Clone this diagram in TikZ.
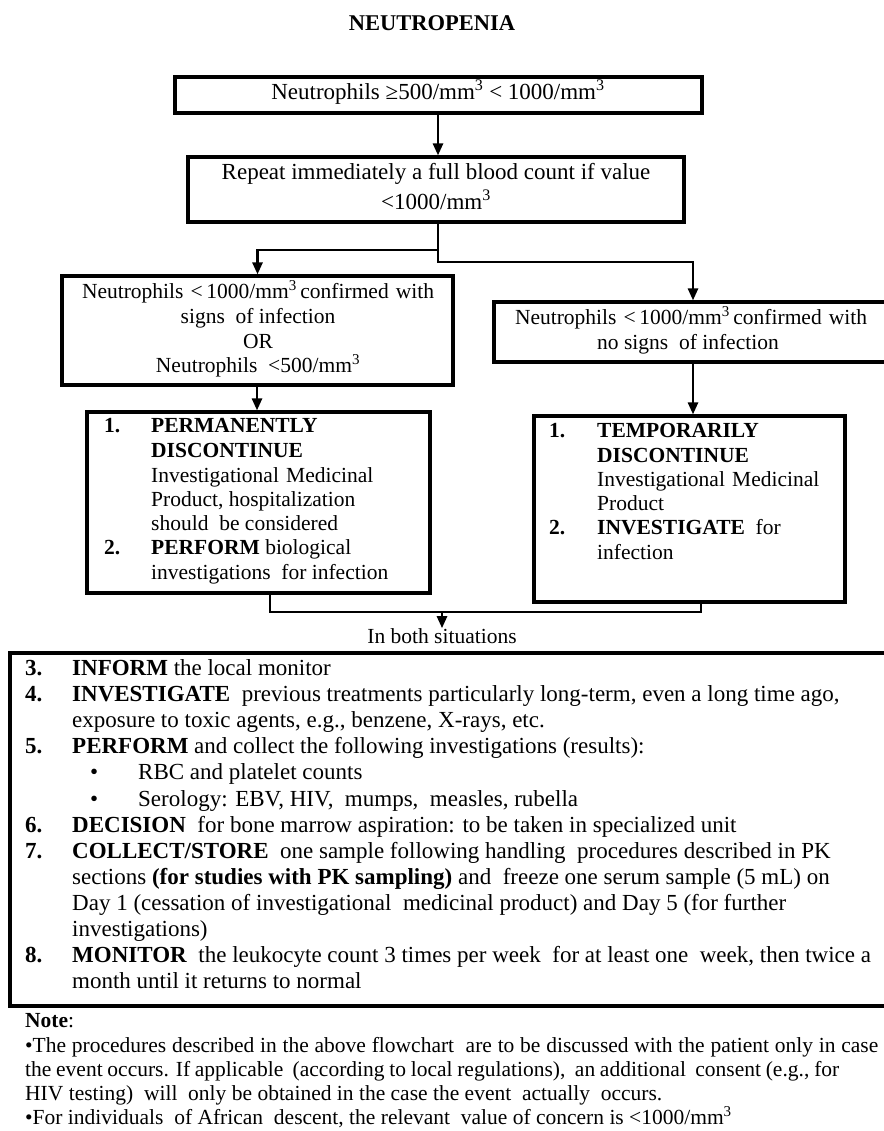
\documentclass[tikz,border=0pt]{standalone}
\usepackage{fontspec}
\setmainfont{Liberation Serif}
\usetikzlibrary{arrows.meta,calc}
\newcommand\fBig{\fontsize{23}{26}\selectfont}
\newcommand\fMed{\fontsize{21.5}{24}\selectfont}
\newcommand\fTitle{\fontsize{22.5}{25}\selectfont\bfseries}
\newcommand\mmc{/mm\textsuperscript{3}}
\newcommand\tx[5][]{\node[txt,#1] (#2) at (#3,#4) {#5};}
\tikzset{
  box/.style={draw=black, line width=3.2pt, inner sep=0pt, fill=white},
  txt/.style={inner sep=0pt, anchor=mid west, font=\fBig},
  ctr/.style={anchor=mid},
  med/.style={font=\fMed},
  conn/.style={line width=2.6pt, draw=black},
  arr/.style={conn, -{Triangle[length=12pt,width=10pt]}}
}
\begin{document}
\begin{tikzpicture}[x=1pt,y=-1pt]
\useasboundingbox (0,0) rectangle (883,1131);
\fill[white] (0,0) rectangle (883,1131);

% title
\node[txt,ctr,font=\fTitle] (title) at (432,28) {NEUTROPENIA};

% boxes
\node[box, minimum width=527pt, minimum height=36pt] (b1) at (438.5,95) {};
\node[box, minimum width=496pt, minimum height=65pt] (b2) at (436,189.5) {};
\node[box, minimum width=391pt, minimum height=109pt] (b3) at (257.5,330.5) {};
\node[box, minimum width=406pt, minimum height=60pt] (b4) at (697,332) {};
\node[box, minimum width=343pt, minimum height=181pt] (b5) at (258.5,502.5) {};
\node[box, minimum width=311pt, minimum height=186pt] (b6) at (689.5,509) {};
\node[box, minimum width=890pt, minimum height=353pt] (b7) at (455,829.5) {};

% box 1 and 2 text
\tx[ctr]{t1}{438}{97}{Neutrophils ≥500\mmc{} < 1000\mmc}
\tx[ctr]{t2a}{436}{177}{Repeat immediately a full blood count if value}
\tx[ctr]{t2b}{436}{207}{<1000\mmc}

% box 3 text
\tx[ctr,med]{t3a}{258}{296}{\makebox[352pt][s]{Neutrophils \ < 1000\mmc{} confirmed \ with}}
\tx[ctr,med]{t3b}{258}{321}{signs \ of infection}
\tx[ctr,med]{t3c}{258}{346}{OR}
\tx[ctr,med]{t3d}{258}{370}{Neutrophils \ <500\mmc}

% box 4 text
\tx[ctr,med]{t4a}{691}{322}{\makebox[352pt][s]{Neutrophils \ < 1000\mmc{} confirmed \ with}}
\tx[ctr,med]{t4b}{688}{347}{no signs \ of infection}

% box 5 text
\tx[med]{n5a}{104}{430}{\textbf{1.}}
\tx[med]{t5a}{151}{430}{\textbf{PERMANENTLY}}
\tx[med]{t5b}{151}{455}{\textbf{DISCONTINUE}}
\tx[med]{t5c}{151}{480}{\makebox[216pt][s]{Investigational \ Medicinal}}
\tx[med]{t5d}{151}{504}{Product, hospitalization}
\tx[med]{t5e}{151}{528}{should \ be considered}
\tx[med]{n5b}{104}{552}{\textbf{2.}}
\tx[med]{t5f}{151}{552}{\textbf{PERFORM} biological}
\tx[med]{t5g}{151}{577}{investigations \ for infection}

% box 6 text
\tx[med]{n6a}{549}{435}{\textbf{1.}}
\tx[med]{t6a}{597}{435}{\textbf{TEMPORARILY}}
\tx[med]{t6b}{597}{460}{\textbf{DISCONTINUE}}
\tx[med]{t6c}{597}{484}{\makebox[217pt][s]{Investigational \ Medicinal}}
\tx[med]{t6d}{597}{508}{Product}
\tx[med]{n6b}{549}{532}{\textbf{2.}}
\tx[med]{t6e}{597}{532}{\textbf{INVESTIGATE} \ for}
\tx[med]{t6f}{597}{557}{infection}

% label
\tx[ctr,med]{lbl}{442}{641}{In both situations}

% connectors
\coordinate (sp) at (438,250);
\draw[arr] (438,0 |- b1.south) -- (438,0 |- b2.north);
\draw[arr] (438,0 |- b2.south) -- (sp) -| (b3.north);
\draw[arr] (sp) -- (438,262) -| (693,0 |- b4.north);
\draw[arr] (257,0 |- b3.south) -- (257,0 |- b5.north);
\draw[arr] (693,0 |- b4.south) -- (693,0 |- b6.north);
\coordinate (jn) at (442,612);
\draw[conn] (270,0 |- b5.south) |- (jn) -| (701,0 |- b6.south);
\draw[arr] (jn) -- (442,0 |- lbl.north);

% box 7 text
\tx{n3}{25}{673}{\textbf{3.}}
\tx{i3}{72}{673}{\textbf{INFORM} the local monitor}
\tx{n4}{25}{699}{\textbf{4.}}
\tx{i4a}{72}{699}{\textbf{INVESTIGATE} \ previous treatments particularly long-term, even a long time ago,}
\tx{i4b}{72}{725}{exposure to toxic agents, e.g., benzene, X-rays, etc.}
\tx{n5}{25}{751}{\textbf{5.}}
\tx{i5}{72}{751}{\textbf{PERFORM} and collect the following investigations (results):}
\tx{bu1}{90}{777}{•}
\tx{i5a}{138}{777}{RBC and platelet counts}
\tx{bu2}{90}{804}{•}
\tx{i5b}{138}{804}{Serology: EBV, HIV, \ mumps, \ measles, rubella}
\tx{n6}{25}{830}{\textbf{6.}}
\tx{i6}{72}{830}{\textbf{DECISION} \ for bone marrow aspiration: to be taken in specialized unit}
\tx{n7}{25}{856}{\textbf{7.}}
\tx{i7a}{72}{856}{\textbf{COLLECT/STORE} \ one sample following handling \ procedures described in PK}
\tx{i7b}{72}{882}{sections \textbf{(for studies with PK sampling)} and \ freeze one serum sample (5 mL) on}
\tx{i7c}{72}{908}{Day 1 (cessation of investigational \ medicinal product) and Day 5 (for further}
\tx{i7d}{72}{934}{investigations)}
\tx{n8}{25}{960}{\textbf{8.}}
\tx{i8a}{72}{960}{\textbf{MONITOR} \ the leukocyte count 3 times per week \ for at least one \ week, then twice a}
\tx{i8b}{72}{986}{month until it returns to normal}

% note
\tx[med]{note}{25}{1025}{\textbf{Note}:}
\tx[med]{nl1}{25}{1050}{\makebox[853pt][s]{•The procedures described in the above flowchart \ are to be discussed with the patient only in case}}
\tx[med]{nl2}{25}{1074}{\makebox[814pt][s]{the event occurs. If applicable \ (according to local regulations), \ an additional \ consent (e.g., for}}
\tx[med]{nl3}{25}{1098}{HIV testing) \ will \ only be obtained in the case the event \ actually \ occurs.}
\tx[med]{nl4}{25}{1122}{•For individuals \ of African \ descent, the relevant \ value of concern is <1000\mmc}
\end{tikzpicture}
\end{document}
